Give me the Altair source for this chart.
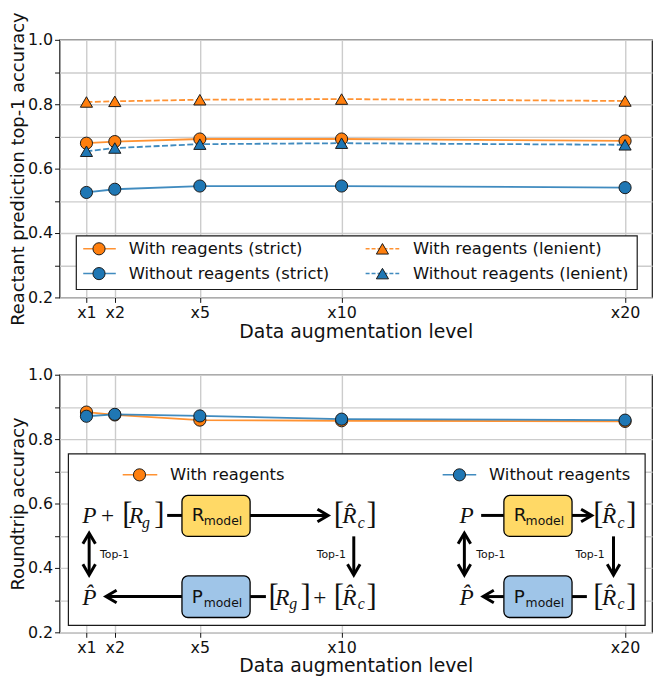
import altair as alt
import pandas as pd

# ---------------- data ----------------
levels = [1, 2, 5, 10, 20]
level_labels = ["x1", "x2", "x5", "x10", "x20"]

with_strict = [0.679, 0.684, 0.692, 0.692, 0.686]
without_strict = [0.526, 0.536, 0.546, 0.546, 0.541]
with_lenient = [0.807, 0.809, 0.814, 0.816, 0.810]
without_lenient = [0.654, 0.664, 0.676, 0.679, 0.674]

roundtrip_with = [0.884, 0.875, 0.859, 0.857, 0.855]
roundtrip_without = [0.871, 0.877, 0.872, 0.862, 0.859]

ORANGE = "#ff7f0e"
BLUE = "#1f77b4"
YELLOW_BOX = "#ffd966"
BLUE_BOX = "#9fc5e8"
EDGE = "#1a1a1a"
W, H = 598, 260
SANS = "DejaVu Sans"
SERIF = "Liberation Serif"

x_scale = alt.Scale(domain=[0.05, 20.95], nice=False, zero=False)
y_scale = alt.Scale(domain=[0.2, 1.0], nice=False, zero=False)

x_label_expr = " : ".join(
    f"datum.value == {v} ? '{l}'" for v, l in zip(levels, level_labels)
) + " : ''"
x_axis = alt.Axis(values=levels, labelExpr=x_label_expr,
                  title="Data augmentation level", grid=True)
y_values = [0.2, 0.3, 0.4, 0.5, 0.6, 0.7, 0.8, 0.9, 1.0]
y_label_expr = ("indexof(['0.2','0.4','0.6','0.8','1.0'], format(datum.value, '.1f')) >= 0"
                " ? format(datum.value, '.1f') : ''")


def y_axis(title):
    return alt.Axis(values=y_values, labelExpr=y_label_expr, title=title, grid=True)


def X(field):
    return alt.X(field, type="quantitative", scale=x_scale, axis=x_axis)


def Y(field, title):
    return alt.Y(field, type="quantitative", scale=y_scale, axis=y_axis(title))


def series_layers(name_vals, title):
    layers = []
    for values, color, shape, dash in name_vals:
        df = pd.DataFrame({"level": levels, "value": values})
        base = alt.Chart(df)
        line_kw = dict(color=color, strokeWidth=1.8, opacity=0.85)
        if dash:
            line_kw["strokeDash"] = dash
        layers.append(base.mark_line(**line_kw).encode(x=X("level"), y=Y("value", title)))
        layers.append(base.mark_point(shape=shape, filled=True, fill=color, stroke=EDGE,
                                      strokeWidth=1, size=150, opacity=1)
                      .encode(x=X("level"), y=Y("value", title)))
    return layers


# ---------------- top panel ----------------
TOP_TITLE = "Reactant prediction top-1 accuracy"
top_series = [
    (with_strict, ORANGE, "circle", None),
    (without_strict, BLUE, "circle", None),
    (with_lenient, ORANGE, "triangle-up", [6, 2.5]),
    (without_lenient, BLUE, "triangle-up", [6, 2.5]),
]
top_layers = series_layers(top_series, TOP_TITLE)

# legend (inside the axes, in data units)
top_box = pd.DataFrame({"x": [0.642], "x2": [20.428], "y": [0.2246], "y2": [0.391]})
top_layers.append(alt.Chart(top_box).mark_rect(fill="white", stroke=EDGE, strokeWidth=1.2)
                  .encode(x=X("x"), x2="x2", y=Y("y", TOP_TITLE), y2="y2"))
top_legend = [
    ("With reagents (strict)", ORANGE, "circle", None, 0.886, 2.035, 1.443, 2.488, 0.351),
    ("Without reagents (strict)", BLUE, "circle", None, 0.886, 2.035, 1.443, 2.488, 0.274),
    ("With reagents (lenient)", ORANGE, "triangle-up", [4, 2], 10.848, 12.033, 11.441, 12.520, 0.351),
    ("Without reagents (lenient)", BLUE, "triangle-up", [4, 2], 10.848, 12.033, 11.441, 12.520, 0.274),
]
for label, color, shape, dash, lx0, lx1, mx, tx, ly in top_legend:
    seg = pd.DataFrame({"x": [lx0], "x2": [lx1], "y": [ly]})
    kw = dict(color=color, strokeWidth=1.5, opacity=0.85)
    if dash:
        kw["strokeDash"] = dash
    top_layers.append(alt.Chart(seg).mark_rule(**kw).encode(x=X("x"), x2="x2", y=Y("y", TOP_TITLE)))
    pt = pd.DataFrame({"x": [mx], "y": [ly]})
    top_layers.append(alt.Chart(pt).mark_point(shape=shape, filled=True, fill=color, stroke=EDGE,
                                               strokeWidth=1, size=150, opacity=1)
                      .encode(x=X("x"), y=Y("y", TOP_TITLE)))
    tt = pd.DataFrame({"x": [tx], "y": [ly], "t": [label]})
    top_layers.append(alt.Chart(tt).mark_text(align="left", baseline="middle", font=SANS,
                                              fontSize=16.5, color="#111")
                      .encode(x=X("x"), y=Y("y", TOP_TITLE), text="t:N"))

top = alt.layer(*top_layers).properties(width=W, height=H)

# ---------------- bottom panel ----------------
BOT_TITLE = "Roundtrip accuracy"
bot_series = [
    (roundtrip_with, ORANGE, "circle", None),
    (roundtrip_without, BLUE, "circle", None),
]
bot_layers = series_layers(bot_series, BOT_TITLE)

bot_box = pd.DataFrame({"x": [0.363], "x2": [20.707], "y": [0.2215], "y2": [0.754]})
bot_layers.append(alt.Chart(bot_box).mark_rect(fill="white", stroke=EDGE, strokeWidth=1.2)
                  .encode(x=X("x"), x2="x2", y=Y("y", BOT_TITLE), y2="y2"))

bot_legend = [
    ("With reagents", ORANGE, 2.279, 3.498, 2.871, 3.951, 0.689),
    ("Without reagents", BLUE, 13.565, 14.749, 14.157, 15.202, 0.689),
]
for label, color, lx0, lx1, mx, tx, ly in bot_legend:
    seg = pd.DataFrame({"x": [lx0], "x2": [lx1], "y": [ly]})
    bot_layers.append(alt.Chart(seg).mark_rule(color=color, strokeWidth=1.5, opacity=0.85)
                      .encode(x=X("x"), x2="x2", y=Y("y", BOT_TITLE)))
    pt = pd.DataFrame({"x": [mx], "y": [ly]})
    bot_layers.append(alt.Chart(pt).mark_point(shape="circle", filled=True, fill=color, stroke=EDGE,
                                               strokeWidth=1, size=150, opacity=1)
                      .encode(x=X("x"), y=Y("y", BOT_TITLE)))
    tt = pd.DataFrame({"x": [tx], "y": [ly], "t": [label]})
    bot_layers.append(alt.Chart(tt).mark_text(align="left", baseline="middle", font=SANS,
                                              fontSize=16.5, color="#111")
                      .encode(x=X("x"), y=Y("y", BOT_TITLE), text="t:N"))

# --- round-trip diagram (data units of the bottom axes) ---
segments = pd.DataFrame({
    "x":  [3.847, 6.773, 10.430, 1.095, 4.369, 6.773, 14.923, 18.129, 19.592, 14.331, 15.725, 18.129],
    "x2": [4.369, 9.480, 10.430, 1.095, 1.730, 7.330, 15.725, 18.780, 19.592, 14.331, 15.040, 18.652],
    "y":  [0.563, 0.563, 0.498, 0.500, 0.311, 0.311, 0.563, 0.563, 0.498, 0.500, 0.311, 0.311],
    "y2": [0.563, 0.563, 0.385, 0.386, 0.311, 0.311, 0.563, 0.563, 0.385, 0.386, 0.311, 0.311],
})
bot_layers.append(alt.Chart(segments).mark_rule(color="black", strokeWidth=3)
                  .encode(x=X("x"), x2="x2", y=Y("y", BOT_TITLE), y2="y2"))

heads = pd.DataFrame({
    "x": [9.525, 10.430, 1.095, 1.095, 1.687, 18.825, 19.592, 14.331, 14.331, 14.993],
    "y": [0.563, 0.378, 0.508, 0.378, 0.311, 0.563, 0.378, 0.508, 0.378, 0.311],
    "ang": [0, 90, 270, 90, 180, 0, 90, 270, 90, 180],
})
bot_layers.append(alt.Chart(heads).mark_point(shape="M -1.7 -1 L 0 0 L -1.7 1", filled=False,
                                              stroke="black", strokeWidth=3, size=160,
                                              strokeJoin="miter", opacity=1)
                  .encode(x=X("x"), y=Y("y", BOT_TITLE), angle=alt.Angle("ang:Q", scale=None)))

boxes = pd.DataFrame({
    "x":  [4.369, 4.369, 15.725, 15.725],
    "x2": [6.773, 6.773, 18.129, 18.129],
    "y":  [0.498, 0.246, 0.498, 0.246],
    "y2": [0.625, 0.375, 0.625, 0.375],
    "fill": [YELLOW_BOX, BLUE_BOX, YELLOW_BOX, BLUE_BOX],
})
bot_layers.append(alt.Chart(boxes).mark_rect(stroke="black", strokeWidth=1.3, cornerRadius=6)
                  .encode(x=X("x"), x2="x2", y=Y("y", BOT_TITLE), y2="y2",
                          fill=alt.Fill("fill:N", scale=None)))

# model labels inside boxes (sans)
model_main = pd.DataFrame({
    "x": [4.718, 4.718, 16.073, 16.073],
    "y": [0.545, 0.292, 0.545, 0.292],
    "t": ["R", "P", "R", "P"],
})
model_sub = pd.DataFrame({
    "x": [5.136, 5.136, 16.491, 16.491],
    "y": [0.532, 0.280, 0.532, 0.280],
    "t": ["model"] * 4,
})
bot_layers.append(alt.Chart(model_main).mark_text(align="left", baseline="alphabetic", font=SANS,
                                                  fontSize=18.5, color="#111")
                  .encode(x=X("x"), y=Y("y", BOT_TITLE), text="t:N"))
bot_layers.append(alt.Chart(model_sub).mark_text(align="left", baseline="alphabetic", font=SANS,
                                                 fontSize=12.5, color="#111")
                  .encode(x=X("x"), y=Y("y", BOT_TITLE), text="t:N"))

# math text pieces
HAT = "\u0302"
math_italic = pd.DataFrame({
    "x": [0.851, 2.500, 10.020, 14.157, 19.190,
          0.851, 7.660, 10.020, 14.157, 19.190],
    "y": [0.538, 0.538, 0.538, 0.538, 0.538,
          0.285, 0.285, 0.285, 0.285, 0.285],
    "t": ["P", "R", "R" + HAT, "P", "R" + HAT,
          "P" + HAT, "R", "R" + HAT, "P" + HAT, "R" + HAT],
})
math_sub = pd.DataFrame({
    "x": [2.960, 10.570, 19.731, 8.150, 10.570, 19.731],
    "y": [0.524, 0.524, 0.524, 0.271, 0.271, 0.271],
    "t": ["g", "c", "c", "g", "c", "c"],
})
math_plus = pd.DataFrame({"x": [1.513, 9.002], "y": [0.538, 0.285], "t": ["+", "+"]})
math_brackets = pd.DataFrame({
    "x": [2.260, 3.394, 9.720, 10.883, 18.880, 20.044,
          7.420, 8.549, 9.720, 10.883, 18.880, 20.044],
    "y": [0.536] * 6 + [0.283] * 6,
    "t": ["[", "]"] * 6,
})
bot_layers.append(alt.Chart(math_italic).mark_text(align="left", baseline="alphabetic", font=SERIF,
                                                   fontStyle="italic", fontSize=23.5, color="#111")
                  .encode(x=X("x"), y=Y("y", BOT_TITLE), text="t:N"))
bot_layers.append(alt.Chart(math_sub).mark_text(align="left", baseline="alphabetic", font=SERIF,
                                                fontStyle="italic", fontSize=16, color="#111")
                  .encode(x=X("x"), y=Y("y", BOT_TITLE), text="t:N"))
bot_layers.append(alt.Chart(math_plus).mark_text(align="left", baseline="alphabetic", font=SERIF,
                                                 fontSize=23.5, color="#111")
                  .encode(x=X("x"), y=Y("y", BOT_TITLE), text="t:N"))
bot_layers.append(alt.Chart(math_brackets).mark_text(align="left", baseline="alphabetic", font=SERIF,
                                                     fontSize=31, color="#111")
                  .encode(x=X("x"), y=Y("y", BOT_TITLE), text="t:N"))

top1_left = pd.DataFrame({"x": [1.478, 14.749], "y": [0.440, 0.440], "t": ["Top-1", "Top-1"]})
top1_right = pd.DataFrame({"x": [10.151, 19.278], "y": [0.440, 0.440], "t": ["Top-1", "Top-1"]})
bot_layers.append(alt.Chart(top1_left).mark_text(align="left", baseline="middle", font=SANS,
                                                 fontSize=11, color="#111")
                  .encode(x=X("x"), y=Y("y", BOT_TITLE), text="t:N"))
bot_layers.append(alt.Chart(top1_right).mark_text(align="right", baseline="middle", font=SANS,
                                                  fontSize=11, color="#111")
                  .encode(x=X("x"), y=Y("y", BOT_TITLE), text="t:N"))

bottom = alt.layer(*bot_layers).properties(width=W, height=H)

chart = (
    alt.vconcat(top, bottom, spacing=78, bounds="flush")
    .properties(padding={"left": 0, "top": 0, "right": 0, "bottom": 0})
    .configure_view(stroke=EDGE, strokeWidth=1.2)
    .configure_axis(
        labelFont=SANS, labelFontSize=16, labelColor="#111",
        titleFont=SANS, titleFontSize=18, titleFontWeight="normal", titleColor="#111",
        gridColor="#cccccc", gridWidth=1.4, gridOpacity=1,
        tickColor="#111", tickSize=5, tickWidth=1,
        domain=False, labelPadding=2, titlePadding=0,
    )
    .configure_axisX(titleFontSize=19, titlePadding=2)
    .configure_axisY(labelAlign="right")
)

chart.save("out.html", embed_options={"renderer": "svg", "actions": False})
